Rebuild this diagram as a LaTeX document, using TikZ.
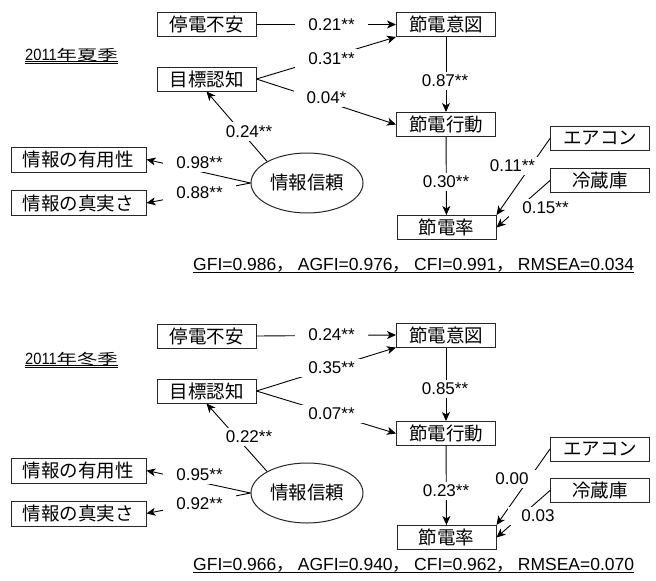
\documentclass[tikz,border=0pt]{standalone}
\usepackage{fontspec}
\setmainfont{Liberation Sans}
\newfontfamily\jp{Noto Sans CJK JP}
\usetikzlibrary{arrows.meta,shapes.geometric}
\newcommand\sepc{{\jp，}\hspace{4pt}}
\begin{document}
\begin{tikzpicture}[x=1pt,y=-1pt,
  box/.style={draw=black!85, line width=1pt, minimum width=99pt, minimum height=24pt, inner sep=0pt, font=\jp\fontsize{18.5}{18.5}\selectfont},
  wbox/.style={box, minimum width=135pt, minimum height=25pt},
  lat/.style={draw=black!85, ellipse, line width=1pt, minimum width=112pt, minimum height=60pt, inner sep=0pt, font=\jp\fontsize{18.5}{18.5}\selectfont},
  lbl/.style={fill=white, inner xsep=13pt, inner ysep=3pt, font=\fontsize{17}{17}\selectfont},
  con/.style={line width=0.9pt},
  arr/.style={con, -{Stealth[length=9pt,width=8pt,inset=2.5pt]}},
  ttl/.style={anchor=base west, inner sep=0pt},
  fitline/.style={anchor=base west, inner sep=0pt, font=\fontsize{17.5}{17.5}\selectfont},
  uline/.style={line width=0.8pt}]
\fill[white] (0,0) rectangle (656,581);
\useasboundingbox (0,0) rectangle (656,581);
% ---------------- summer ----------------
\node[ttl] (sTitle) at (25,60) {{\fontsize{16.3}{16}\selectfont\scalebox{0.9}[1]{2011}}{\jp\fontsize{14.5}{14}\selectfont\scalebox{1.4}[1]{年夏季}}};
\draw[uline] ([yshift=-1.6pt]sTitle.base west) -- ([yshift=-1.6pt]sTitle.base east);
\draw[uline] ([yshift=-3.8pt]sTitle.base west) -- ([yshift=-3.8pt]sTitle.base east);
\node[box] (sA) at (206.5,24.5) {停電不安};
\node[box] (sG) at (206.5,79) {目標認知};
\node[box] (sI) at (446,24.5) {節電意図};
\node[box] (sB) at (446,124.5) {節電行動};
\node[box] (sR) at (446.5,227.5) {節電率};
\node[box] (sAC) at (600,138.5) {エアコン};
\node[box] (sF) at (600,180.5) {冷蔵庫};
\node[lat] (sT) at (307,183) {情報信頼};
\node[wbox] (sU) at (78.5,159.5) {情報の有用性};
\node[wbox] (sV) at (78.5,203) {情報の真実さ};
\draw[arr] (sA.east) -- (sI.west);
\draw[arr] (sG.east) -- (sI.south west);
\draw[arr] (sG.east) -- (sB.west);
\draw[arr] (sI) -- (sB);
\draw[arr] (sB) -- (sR);
\draw[arr] (sT.north west) -- (sG.south);
\draw[arr] (sT.west) -- (sU.east);
\draw[arr] (sT.west) -- (sV.east);
\draw[arr] (sAC.west) -- (sR.north east);
\draw[arr] (sF.west) -- (sR.east);
\node[lbl] at (331.5,24.5) {0.21**};
\node[lbl] at (331.5,58.5) {0.31**};
\node[lbl] at (326.5,98) {0.04*};
\node[lbl] at (445,81) {0.87**};
\node[lbl] at (249,131.5) {0.24**};
\node[lbl] at (199.5,163) {0.98**};
\node[lbl] at (199.5,193) {0.88**};
\node[lbl] at (446,182) {0.30**};
\node[lbl] at (512.5,166) {0.11**};
\node[lbl] at (545.5,208) {0.15**};
\node[fitline] (sFit) at (193,270) {GFI=0.986\sepc AGFI=0.976\sepc CFI=0.991\sepc RMSEA=0.034};
\draw[uline] ([yshift=-2pt]sFit.base west) -- ([yshift=-2pt]sFit.base east);
% ---------------- winter ----------------
\node[ttl] (wTitle) at (25,364) {{\fontsize{16.3}{16}\selectfont\scalebox{0.9}[1]{2011}}{\jp\fontsize{14.5}{14}\selectfont\scalebox{1.4}[1]{年冬季}}};
\draw[uline] ([yshift=-1.6pt]wTitle.base west) -- ([yshift=-1.6pt]wTitle.base east);
\draw[uline] ([yshift=-3.8pt]wTitle.base west) -- ([yshift=-3.8pt]wTitle.base east);
\node[box] (wA) at (206.5,336) {停電不安};
\node[box] (wG) at (206.5,391) {目標認知};
\node[box] (wI) at (446,335) {節電意図};
\node[box] (wB) at (446,433.5) {節電行動};
\node[box] (wR) at (446.5,537.5) {節電率};
\node[box] (wAC) at (600,449) {エアコン};
\node[box] (wF) at (600,490.5) {冷蔵庫};
\node[lat] (wT) at (307,493) {情報信頼};
\node[wbox] (wU) at (78.5,470.5) {情報の有用性};
\node[wbox] (wV) at (78.5,513.5) {情報の真実さ};
\draw[arr] (wA.east) -- (wI.west);
\draw[arr] (wG.east) -- (wI.south west);
\draw[arr] (wG.east) -- (wB.west);
\draw[arr] (wI) -- (wB);
\draw[arr] (wB) -- (wR);
\draw[arr] (wT.north west) -- (wG.south);
\draw[arr] (wT.west) -- (wU.east);
\draw[arr] (wT.west) -- (wV.east);
\draw[arr] (wAC.west) -- (wR.north east);
\draw[arr] (wF.west) -- (wR.east);
\node[lbl] at (331.5,335) {0.24**};
\node[lbl] at (331.5,368) {0.35**};
\node[lbl] at (331.5,414) {0.07**};
\node[lbl] at (445,389) {0.85**};
\node[lbl] at (249,437) {0.22**};
\node[lbl] at (199.5,474.5) {0.95**};
\node[lbl] at (199.5,503.5) {0.92**};
\node[lbl] at (446,491) {0.23**};
\node[lbl] at (512,479) {0.00};
\node[lbl] at (538,516) {0.03};
\node[fitline] (wFit) at (193,570) {GFI=0.966\sepc AGFI=0.940\sepc CFI=0.962\sepc RMSEA=0.070};
\draw[uline] ([yshift=-2pt]wFit.base west) -- ([yshift=-2pt]wFit.base east);
\end{tikzpicture}
\end{document}
